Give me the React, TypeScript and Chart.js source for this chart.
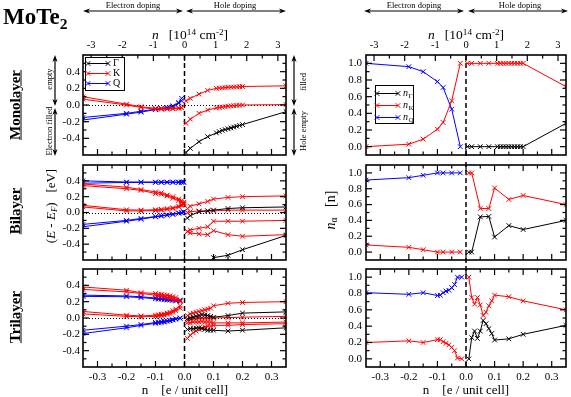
import React, { useEffect, useRef } from 'react';
import { Chart, registerables } from 'chart.js';

Chart.register(...registerables);

const FONT = "'Liberation Serif', 'Times New Roman', Times, serif";
const RED = '#ff0000';
const BLUE = '#0000ff';
const BLACK = '#000000';

// ---------- axis definitions ----------
const N_TO_CM = 9.32; // 1 e / unit cell = 9.32 x 10^14 cm^-2
const X_MIN = -0.35;
const X_MAX = 0.35;
const xMajorTicks = [-0.3, -0.2, -0.1, 0, 0.1, 0.2, 0.3];
const xMinorTicks = [-0.25, -0.15, -0.05, 0.05, 0.15, 0.25];
const topMajorTicks = [-3, -2, -1, 0, 1, 2, 3];
const topMinorTicks = [-2.5, -1.5, -0.5, 0.5, 1.5, 2.5];
const eMajorTicks = [-0.4, -0.2, 0, 0.2, 0.4];
const eMinorTicks = [-0.5, -0.3, -0.1, 0.1, 0.3, 0.5];
const nMajorTicks = [0, 0.2, 0.4, 0.6, 0.8, 1.0];
const nMinorTicks = [0.1, 0.3, 0.5, 0.7, 0.9];

// ---------- Monolayer ----------
const monoElecX = [-0.35, -0.2, -0.15, -0.1, -0.08, -0.06, -0.04, -0.02, -0.01];
const monoQ1 = [-0.15, -0.1, -0.075, -0.05, -0.04, -0.03, -0.01, 0.03, 0.08];
const monoQ2 = [-0.18, -0.11, -0.085, -0.055, -0.045, -0.035, -0.02, 0.02, 0.05];
const monoK1e = [0.1, 0.01, -0.02, -0.04, -0.045, -0.045, -0.04, -0.035, -0.03];
const monoK2e = [0.07, 0.0, -0.03, -0.05, -0.05, -0.05, -0.045, -0.04, -0.035];
const monoHoleX = [0.005, 0.02, 0.05, 0.08, 0.11, 0.12, 0.13, 0.14, 0.15, 0.16, 0.17, 0.18, 0.19, 0.2, 0.35];
const monoK1h = [0.05, 0.08, 0.13, 0.175, 0.2, 0.203, 0.206, 0.209, 0.212, 0.214, 0.216, 0.218, 0.22, 0.222, 0.23];
const monoK2h = [-0.22, -0.17, -0.1, -0.06, -0.035, -0.03, -0.025, -0.02, -0.015, -0.01, -0.008, -0.005, -0.003, 0.0, 0.005];
const monoGh = [-0.57, -0.52, -0.44, -0.38, -0.335, -0.32, -0.305, -0.295, -0.285, -0.275, -0.265, -0.255, -0.245, -0.235, -0.08];

const monoNElecX = [-0.35, -0.2, -0.15, -0.1, -0.08, -0.05, -0.02];
const monoNQ = [1.0, 0.96, 0.9, 0.78, 0.71, 0.45, 0.0];
const monoNKe = [0.0, 0.03, 0.09, 0.21, 0.29, 0.55, 1.0];
const monoNKh = [1.0, 1.0, 1.0, 1.0, 1.0, 1.0, 1.0, 1.0, 1.0, 1.0, 1.0, 1.0, 1.0, 1.0, 0.72];
const monoNGh = [0.0, 0.0, 0.0, 0.0, 0.0, 0.0, 0.0, 0.0, 0.0, 0.0, 0.0, 0.0, 0.0, 0.0, 0.28];

// ---------- Bilayer ----------
const biElecX = [-0.35, -0.2, -0.15, -0.1, -0.08, -0.06, -0.04, -0.02, -0.01, -0.003];
const biQhi1 = [0.4, 0.385, 0.385, 0.385, 0.385, 0.385, 0.385, 0.385, 0.385, 0.385];
const biQhi2 = [0.37, 0.38, 0.38, 0.38, 0.38, 0.38, 0.38, 0.38, 0.38, 0.38];
const biQlo1 = [-0.15, -0.1, -0.075, -0.05, -0.04, -0.03, -0.02, -0.005, 0.0, 0.01];
const biQlo2 = [-0.18, -0.11, -0.085, -0.055, -0.045, -0.035, -0.025, -0.01, -0.005, 0.005];
const biKhi1 = [0.36, 0.32, 0.29, 0.26, 0.25, 0.22, 0.2, 0.17, 0.15, 0.13];
const biKhi2 = [0.34, 0.3, 0.28, 0.24, 0.23, 0.21, 0.18, 0.15, 0.13, 0.11];
const biKlo1 = [0.09, 0.035, 0.03, 0.035, 0.04, 0.05, 0.06, 0.08, 0.1, 0.12];
const biKlo2 = [0.07, 0.02, 0.02, 0.025, 0.03, 0.04, 0.05, 0.07, 0.09, 0.1];
const biHoleX = [0.01, 0.02, 0.05, 0.08, 0.1, 0.15, 0.2, 0.35];
const biKa = [0.05, 0.08, 0.11, 0.14, 0.17, 0.19, 0.2, 0.21];
const biGa = [-0.07, -0.04, 0.01, 0.02, 0.03, 0.05, 0.06, 0.07];
const biKb = [0.0, 0.01, 0.02, 0.02, 0.02, 0.03, 0.03, 0.03];
const biKc = [-0.24, -0.22, -0.2, -0.18, -0.11, -0.11, -0.11, -0.1];
const biKd = [-0.24, -0.26, -0.27, -0.28, -0.23, -0.28, -0.3, -0.28];
const biGb = [-1.0, -0.9, -0.75, -0.66, -0.57, -0.54, -0.47, -0.29];

const biNElecX = [-0.35, -0.2, -0.15, -0.1, -0.08, -0.05, -0.02];
const biNQ = [0.91, 0.94, 0.97, 1.0, 1.0, 1.0, 1.0];
const biNKe = [0.09, 0.06, 0.03, 0.0, 0.0, 0.0, 0.0];
const biNKh = [1.0, 1.0, 0.55, 0.55, 0.81, 0.665, 0.715, 0.6];
const biNGh = [0.0, 0.0, 0.445, 0.45, 0.19, 0.335, 0.285, 0.4];

// ---------- Trilayer ----------
const triElecX = [-0.35, -0.2, -0.15, -0.1, -0.09, -0.08, -0.07, -0.06, -0.05, -0.04, -0.03, -0.015];
const triKhi1 = [0.38, 0.34, 0.31, 0.3, 0.29, 0.29, 0.28, 0.28, 0.27, 0.26, 0.25, 0.22];
const triKhi2 = [0.35, 0.32, 0.3, 0.28, 0.27, 0.27, 0.26, 0.25, 0.24, 0.23, 0.22, 0.2];
const triQhi1 = [0.28, 0.27, 0.26, 0.245, 0.24, 0.24, 0.235, 0.23, 0.23, 0.225, 0.22, 0.22];
const triQhi2 = [0.265, 0.26, 0.25, 0.235, 0.23, 0.23, 0.225, 0.22, 0.22, 0.215, 0.21, 0.21];
const triKlo1 = [0.08, 0.035, 0.025, 0.035, 0.04, 0.045, 0.05, 0.06, 0.07, 0.09, 0.11, 0.15];
const triKlo2 = [0.05, 0.02, 0.015, 0.02, 0.025, 0.03, 0.035, 0.045, 0.055, 0.07, 0.09, 0.12];
const triQlo1 = [-0.15, -0.1, -0.08, -0.055, -0.05, -0.045, -0.04, -0.035, -0.03, -0.02, -0.01, 0.0];
const triQlo2 = [-0.19, -0.12, -0.09, -0.065, -0.06, -0.055, -0.05, -0.04, -0.035, -0.025, -0.015, -0.005];
const triHoleX = [0.01, 0.02, 0.03, 0.04, 0.05, 0.06, 0.07, 0.08, 0.09, 0.1, 0.15, 0.2, 0.35];
const triK1 = [0.03, 0.05, 0.06, 0.07, 0.08, 0.09, 0.1, 0.11, 0.12, 0.15, 0.18, 0.19, 0.2];
const triK2 = [-0.03, -0.02, -0.01, -0.01, 0.0, 0.0, 0.0, 0.0, 0.0, 0.0, 0.005, 0.01, 0.02];
const triK3 = [-0.06, -0.06, -0.05, -0.05, -0.05, -0.045, -0.05, -0.05, -0.05, -0.06, -0.06, -0.06, -0.05];
const triK4 = [-0.25, -0.21, -0.18, -0.16, -0.14, -0.12, -0.11, -0.1, -0.1, -0.09, -0.09, -0.08, -0.07];
const triG1 = [-0.01, 0.0, 0.01, 0.02, 0.03, 0.04, 0.035, 0.03, 0.02, 0.01, 0.03, 0.06, 0.075];
const triG2 = [-0.14, -0.13, -0.13, -0.125, -0.12, -0.13, -0.14, -0.15, -0.15, -0.15, -0.16, -0.15, -0.12];

const triNQ = [0.81, 0.79, 0.81, 0.775, 0.78, 0.81, 0.83, 0.84, 0.87, 0.91, 1.0, 1.0];
const triNKe = [0.2, 0.22, 0.2, 0.235, 0.235, 0.21, 0.19, 0.17, 0.14, 0.1, 0.01, 0.0];
const triNKh = [1.0, 0.75, 0.67, 0.75, 0.66, 0.53, 0.57, 0.65, 0.71, 0.78, 0.76, 0.71, 0.6];
const triNGh = [0.0, 0.26, 0.34, 0.25, 0.34, 0.47, 0.43, 0.37, 0.31, 0.23, 0.245, 0.3, 0.41];

// ---------- helpers ----------
type Series = { xs: number[]; ys: number[]; color: string };
const S = (xs: number[], ys: number[], color: string): Series => ({ xs, ys, color });

type LegendSpec = {
  box: [number, number, number, number];
  rows: { color: string; label: string; sub?: string }[];
  rowY0: number;
  rowDy: number;
  lx1: number;
  lx2: number;
  tx: number;
};

type PanelSpec = {
  series: Series[];
  kind: 'E' | 'N';
  top: boolean;
  bottomLabels: boolean;
  extTop: number;
  extBottom: number;
  legend?: LegendSpec;
};

const COLS = {
  left: { x: 53, w: 240, yw: 30, pr: 7 },
  right: { x: 330, w: 241, yw: 36, pr: 4 },
};
const ROWS = {
  mono: { y: 30, h: 130, pt: 0, topH: 25, botH: 3 },
  bi: { y: 160, h: 105, pt: 3, topH: 0, botH: 3 },
  tri: { y: 264, h: 133, pt: 3, topH: 0, botH: 30 },
};

function drawCross(ctx: CanvasRenderingContext2D, x: number, y: number, r: number) {
  ctx.beginPath();
  ctx.moveTo(x - r, y - r);
  ctx.lineTo(x + r, y + r);
  ctx.moveTo(x - r, y + r);
  ctx.lineTo(x + r, y - r);
  ctx.stroke();
}

function makeDeco(spec: PanelSpec) {
  return {
    id: 'deco',
    beforeDatasetsDraw(chart: any) {
      const { ctx, chartArea: a, scales } = chart;
      const x0 = scales.x.getPixelForValue(0);
      ctx.save();
      ctx.strokeStyle = '#000';
      if (spec.kind === 'E') {
        const y0 = Math.round(scales.y.getPixelForValue(0)) + 0.5;
        ctx.lineWidth = 1;
        ctx.setLineDash([1, 2]);
        ctx.beginPath();
        ctx.moveTo(a.left, y0);
        ctx.lineTo(a.right, y0);
        ctx.stroke();
      }
      ctx.lineWidth = 1.5;
      ctx.setLineDash([5, 3]);
      ctx.beginPath();
      ctx.moveTo(x0, a.top - spec.extTop);
      ctx.lineTo(x0, a.bottom + spec.extBottom);
      ctx.stroke();
      ctx.restore();
    },
    afterDatasetsDraw(chart: any) {
      const { ctx, chartArea: a, scales } = chart;
      const xs = scales.x;
      const ys = scales.y;
      const topScale = spec.top ? scales.x2 : xs;
      const topMaj = spec.top ? topMajorTicks : xMajorTicks;
      const topMin = spec.top ? topMinorTicks : xMinorTicks;
      const yMaj = spec.kind === 'E' ? eMajorTicks : nMajorTicks;
      const yMin = spec.kind === 'E' ? eMinorTicks : nMinorTicks;
      ctx.save();
      ctx.strokeStyle = '#000';
      ctx.setLineDash([]);
      ctx.lineWidth = 1.2;
      const MAJ = 6;
      const MIN = 3.5;
      const vx = (scale: any, vals: number[], len: number, yEdge: number, dir: number) => {
        for (const v of vals) {
          const p = scale.getPixelForValue(v);
          ctx.beginPath();
          ctx.moveTo(p, yEdge);
          ctx.lineTo(p, yEdge + dir * len);
          ctx.stroke();
        }
      };
      const hy = (scale: any, vals: number[], len: number, xEdge: number, dir: number) => {
        for (const v of vals) {
          const p = scale.getPixelForValue(v);
          ctx.beginPath();
          ctx.moveTo(xEdge, p);
          ctx.lineTo(xEdge + dir * len, p);
          ctx.stroke();
        }
      };
      vx(xs, xMajorTicks, MAJ, a.bottom, -1);
      vx(xs, xMinorTicks, MIN, a.bottom, -1);
      vx(topScale, topMaj, MAJ, a.top, 1);
      vx(topScale, topMin, MIN, a.top, 1);
      hy(ys, yMaj, MAJ, a.left, 1);
      hy(ys, yMin, MIN, a.left, 1);
      hy(ys, yMaj, MAJ, a.right, -1);
      hy(ys, yMin, MIN, a.right, -1);
      ctx.lineWidth = 1.6;
      ctx.strokeRect(a.left, a.top, a.right - a.left, a.bottom - a.top);

      const lg = spec.legend;
      if (lg) {
        const bx = a.left + lg.box[0];
        const by = a.top + lg.box[1];
        ctx.fillStyle = '#fff';
        ctx.fillRect(bx, by, lg.box[2], lg.box[3]);
        ctx.lineWidth = 1;
        ctx.strokeStyle = '#000';
        ctx.strokeRect(bx + 0.5, by + 0.5, lg.box[2], lg.box[3]);
        lg.rows.forEach((r, i) => {
          const y = a.top + lg.rowY0 + i * lg.rowDy;
          ctx.strokeStyle = r.color;
          ctx.lineWidth = 1;
          ctx.beginPath();
          ctx.moveTo(a.left + lg.lx1, y);
          ctx.lineTo(a.left + lg.lx2, y);
          ctx.stroke();
          drawCross(ctx, a.left + lg.lx1, y, 2.3);
          drawCross(ctx, a.left + lg.lx2, y, 2.3);
          ctx.fillStyle = '#000';
          ctx.textBaseline = 'middle';
          ctx.textAlign = 'left';
          const tx = a.left + lg.tx;
          if (r.sub) {
            ctx.font = `italic 10px ${FONT}`;
            ctx.fillText(r.label, tx, y);
            const w = ctx.measureText(r.label).width;
            ctx.font = `7px ${FONT}`;
            ctx.fillText(r.sub, tx + w + 0.5, y + 3);
          } else {
            ctx.font = `10px ${FONT}`;
            ctx.fillText(r.label, tx, y);
          }
        });
      }
      ctx.restore();
    },
  };
}

function zeroPad(s: any) {
  s.paddingLeft = 0;
  s.paddingRight = 0;
  s.paddingTop = 0;
  s.paddingBottom = 0;
}

function makeConfig(spec: PanelSpec, col: any, row: any): any {
  const isE = spec.kind === 'E';
  const yMaj = isE ? eMajorTicks : nMajorTicks;
  const tickFont = { family: FONT, size: 11 };
  const scales: any = {
    x: {
      type: 'linear',
      position: 'bottom',
      min: X_MIN,
      max: X_MAX,
      grid: { display: false, drawTicks: false },
      border: { display: false },
      ticks: {
        display: spec.bottomLabels,
        autoSkip: false,
        maxRotation: 0,
        padding: 4,
        color: '#000',
        font: tickFont,
        callback: (v: any) => Number(v).toFixed(1),
      },
      afterBuildTicks: (s: any) => {
        s.ticks = xMajorTicks.map((value) => ({ value }));
      },
      afterFit: (s: any) => {
        s.height = row.botH;
        zeroPad(s);
      },
    },
    y: {
      type: 'linear',
      position: 'left',
      min: isE ? -0.6 : -0.1,
      max: isE ? 0.6 : 1.1,
      grid: { display: false, drawTicks: false },
      border: { display: false },
      ticks: {
        autoSkip: false,
        padding: isE ? 3 : 4,
        color: '#000',
        font: tickFont,
        callback: (v: any) => Number(v).toFixed(1),
      },
      afterBuildTicks: (s: any) => {
        s.ticks = yMaj.map((value) => ({ value }));
      },
      afterFit: (s: any) => {
        s.width = col.yw;
        zeroPad(s);
      },
    },
  };
  if (spec.top) {
    scales.x2 = {
      type: 'linear',
      position: 'top',
      min: X_MIN * N_TO_CM,
      max: X_MAX * N_TO_CM,
      grid: { display: false, drawTicks: false },
      border: { display: false },
      ticks: {
        autoSkip: false,
        maxRotation: 0,
        padding: 3,
        color: '#000',
        font: { family: FONT, size: 10.5 },
        callback: (v: any) => String(Math.round(Number(v))),
      },
      afterBuildTicks: (s: any) => {
        s.ticks = topMajorTicks.map((value) => ({ value }));
      },
      afterFit: (s: any) => {
        s.height = row.topH;
        zeroPad(s);
      },
    };
  }
  return {
    type: 'line',
    data: {
      datasets: spec.series.map((s) => ({
        data: s.xs.map((x, i) => ({ x, y: s.ys[i] })),
        borderColor: s.color,
        backgroundColor: s.color,
        pointBorderColor: s.color,
        pointBackgroundColor: s.color,
        pointStyle: 'crossRot',
        pointRadius: 3.3,
        pointBorderWidth: 1,
        borderWidth: 1,
        tension: 0,
        fill: false,
        xAxisID: 'x',
        yAxisID: 'y',
      })),
    },
    options: {
      responsive: false,
      animation: false,
      events: [],
      layout: { padding: { left: 0, right: col.pr, top: row.pt, bottom: 0 } },
      plugins: { legend: { display: false }, tooltip: { enabled: false } },
      scales,
    },
    plugins: [makeDeco(spec)],
  };
}

function Panel({ spec, col, row }: { spec: PanelSpec; col: any; row: any }) {
  const ref = useRef<HTMLCanvasElement>(null);
  useEffect(() => {
    const chart = new Chart(ref.current as HTMLCanvasElement, makeConfig(spec, col, row));
    return () => chart.destroy();
  }, []);
  return (
    <canvas
      ref={ref}
      width={col.w}
      height={row.h}
      style={{ position: 'absolute', left: col.x, top: row.y, width: col.w, height: row.h }}
    />
  );
}

// ---------- panel specs ----------
const monoE: PanelSpec = {
  kind: 'E', top: true, bottomLabels: false, extTop: 0, extBottom: 3,
  series: [
    S(monoHoleX, monoGh, BLACK),
    S(monoElecX, monoK1e, RED), S(monoElecX, monoK2e, RED),
    S(monoHoleX, monoK1h, RED), S(monoHoleX, monoK2h, RED),
    S(monoElecX, monoQ1, BLUE), S(monoElecX, monoQ2, BLUE),
  ],
  legend: {
    box: [2, 2, 39, 33],
    rows: [{ color: BLACK, label: 'Γ' }, { color: RED, label: 'K' }, { color: BLUE, label: 'Q' }],
    rowY0: 8.5, rowDy: 10, lx1: 5, lx2: 25, tx: 30,
  },
};
const monoN: PanelSpec = {
  kind: 'N', top: true, bottomLabels: false, extTop: 0, extBottom: 3,
  series: [
    S(monoHoleX, monoNGh, BLACK),
    S(monoNElecX, monoNKe, RED), S(monoHoleX, monoNKh, RED),
    S(monoNElecX, monoNQ, BLUE),
  ],
  legend: {
    box: [9, 30, 38, 38],
    rows: [
      { color: BLACK, label: 'n', sub: 'Γ' },
      { color: RED, label: 'n', sub: 'K' },
      { color: BLUE, label: 'n', sub: 'Q' },
    ],
    rowY0: 38.5, rowDy: 12, lx1: 11, lx2: 32, tx: 37,
  },
};
const biE: PanelSpec = {
  kind: 'E', top: false, bottomLabels: false, extTop: 3, extBottom: 3,
  series: [
    S(biHoleX, biGa, BLACK), S(biHoleX, biGb, BLACK),
    S(biElecX, biKhi1, RED), S(biElecX, biKhi2, RED), S(biElecX, biKlo1, RED), S(biElecX, biKlo2, RED),
    S(biHoleX, biKa, RED), S(biHoleX, biKb, RED), S(biHoleX, biKc, RED), S(biHoleX, biKd, RED),
    S(biElecX, biQhi1, BLUE), S(biElecX, biQhi2, BLUE), S(biElecX, biQlo1, BLUE), S(biElecX, biQlo2, BLUE),
  ],
};
const biN: PanelSpec = {
  kind: 'N', top: false, bottomLabels: false, extTop: 3, extBottom: 3,
  series: [
    S(biHoleX, biNGh, BLACK),
    S(biNElecX, biNKe, RED), S(biHoleX, biNKh, RED),
    S(biNElecX, biNQ, BLUE),
  ],
};
const triE: PanelSpec = {
  kind: 'E', top: false, bottomLabels: true, extTop: 3, extBottom: 0,
  series: [
    S(triHoleX, triG1, BLACK), S(triHoleX, triG2, BLACK),
    S(triElecX, triKhi1, RED), S(triElecX, triKhi2, RED), S(triElecX, triKlo1, RED), S(triElecX, triKlo2, RED),
    S(triHoleX, triK1, RED), S(triHoleX, triK2, RED), S(triHoleX, triK3, RED), S(triHoleX, triK4, RED),
    S(triElecX, triQhi1, BLUE), S(triElecX, triQhi2, BLUE), S(triElecX, triQlo1, BLUE), S(triElecX, triQlo2, BLUE),
  ],
};
const triN: PanelSpec = {
  kind: 'N', top: false, bottomLabels: true, extTop: 3, extBottom: 0,
  series: [
    S(triHoleX, triNGh, BLACK),
    S(triElecX, triNKe, RED), S(triHoleX, triNKh, RED),
    S(triElecX, triNQ, BLUE),
  ],
};

// ---------- text helpers ----------
const base: React.CSSProperties = { position: 'absolute', fontFamily: FONT, color: '#000', whiteSpace: 'nowrap', lineHeight: 1 };

function CText({ cx, cy, size, rot, bold, under, children }: any) {
  return (
    <div
      style={{
        ...base,
        left: cx,
        top: cy,
        fontSize: size,
        fontWeight: bold ? 'bold' : 'normal',
        textDecoration: under ? 'underline' : 'none',
        transform: `translate(-50%, -50%)${rot ? ' rotate(-90deg)' : ''}`,
      }}
    >
      {children}
    </div>
  );
}

const supS: React.CSSProperties = { fontSize: '0.68em', verticalAlign: '0.45em', lineHeight: 0 };
const subS: React.CSSProperties = { fontSize: '0.68em', verticalAlign: '-0.25em', lineHeight: 0 };

function HArrow({ x1, x2, y }: { x1: number; x2: number; y: number }) {
  return (
    <g>
      <line x1={x1 + 4} y1={y} x2={x2 - 4} y2={y} stroke="#000" strokeWidth={1.2} />
      <polygon points={`${x1},${y} ${x1 + 7},${y - 2.6} ${x1 + 5},${y} ${x1 + 7},${y + 2.6}`} fill="#000" />
      <polygon points={`${x2},${y} ${x2 - 7},${y - 2.6} ${x2 - 5},${y} ${x2 - 7},${y + 2.6}`} fill="#000" />
    </g>
  );
}
function VArrow({ x, y1, y2 }: { x: number; y1: number; y2: number }) {
  return (
    <g>
      <line x1={x} y1={y1 + 4} x2={x} y2={y2 - 4} stroke="#000" strokeWidth={1.2} />
      <polygon points={`${x},${y1} ${x - 2.6},${y1 + 7} ${x},${y1 + 5} ${x + 2.6},${y1 + 7}`} fill="#000" />
      <polygon points={`${x},${y2} ${x - 2.6},${y2 - 7} ${x},${y2 - 5} ${x + 2.6},${y2 - 7}`} fill="#000" />
    </g>
  );
}

export default function App() {
  return (
    <div style={{ position: 'fixed', left: 0, top: 0, width: 571, height: 397, background: '#fff', overflow: 'hidden' }}>
      <Panel spec={monoE} col={COLS.left} row={ROWS.mono} />
      <Panel spec={monoN} col={COLS.right} row={ROWS.mono} />
      <Panel spec={biE} col={COLS.left} row={ROWS.bi} />
      <Panel spec={biN} col={COLS.right} row={ROWS.bi} />
      <Panel spec={triE} col={COLS.left} row={ROWS.tri} />
      <Panel spec={triN} col={COLS.right} row={ROWS.tri} />

      <svg width={571} height={397} style={{ position: 'absolute', left: 0, top: 0, pointerEvents: 'none' }}>
        <HArrow x1={83} x2={183} y={11} />
        <HArrow x1={186} x2={286} y={11} />
        <HArrow x1={364} x2={464} y={11} />
        <HArrow x1={468} x2={568} y={11} />
        <VArrow x={55} y1={55} y2={106} />
        <VArrow x={55} y1={108} y2={156} />
        <VArrow x={294} y1={55} y2={106} />
        <VArrow x={294} y1={108} y2={156} />
      </svg>

      <div style={{ ...base, left: 3, top: 5, fontSize: 23, fontWeight: 'bold' }}>
        MoTe<span style={{ fontSize: '0.68em', verticalAlign: '-0.3em', lineHeight: 0 }}>2</span>
      </div>

      <CText cx={133} cy={5} size={8.5}>Electron doping</CText>
      <CText cx={235} cy={5} size={8.5}>Hole doping</CText>
      <CText cx={414} cy={5} size={8.5}>Electron doping</CText>
      <CText cx={520} cy={5} size={8.5}>Hole doping</CText>

      <CText cx={190} cy={35} size={13.5}>
        <i>n</i>&nbsp;&nbsp;&nbsp;[10<span style={supS}>14</span> cm<span style={supS}>-2</span>]
      </CText>
      <CText cx={466} cy={35} size={13.5}>
        <i>n</i>&nbsp;&nbsp;&nbsp;[10<span style={supS}>14</span> cm<span style={supS}>-2</span>]
      </CText>

      <CText cx={185} cy={389} size={13}>n&nbsp;&nbsp;&nbsp;&nbsp;[e / unit cell]</CText>
      <CText cx={466} cy={389} size={13}>n&nbsp;&nbsp;&nbsp;&nbsp;[e / unit cell]</CText>

      <CText cx={15} cy={105} size={15} rot bold under>Monolayer</CText>
      <CText cx={15} cy={211} size={15} rot bold under>Bilayer</CText>
      <CText cx={15} cy={317} size={15} rot bold under>Trilayer</CText>

      <CText cx={48.5} cy={79} size={8.5} rot>empty</CText>
      <CText cx={48.5} cy={131} size={8.5} rot>Electron filled</CText>
      <CText cx={303} cy={82} size={8.5} rot>filled</CText>
      <CText cx={303} cy={131} size={8.5} rot>Hole empty</CText>

      <CText cx={50} cy={206} size={13} rot>
        (<i>E</i> - <i>E</i><span style={subS}><i>F</i></span>)&nbsp;&nbsp;&nbsp;[eV]
      </CText>
      <CText cx={331} cy={210} size={14} rot>
        <i>n</i><span style={subS}>α</span>&nbsp;&nbsp;&nbsp;[n]
      </CText>
    </div>
  );
}
